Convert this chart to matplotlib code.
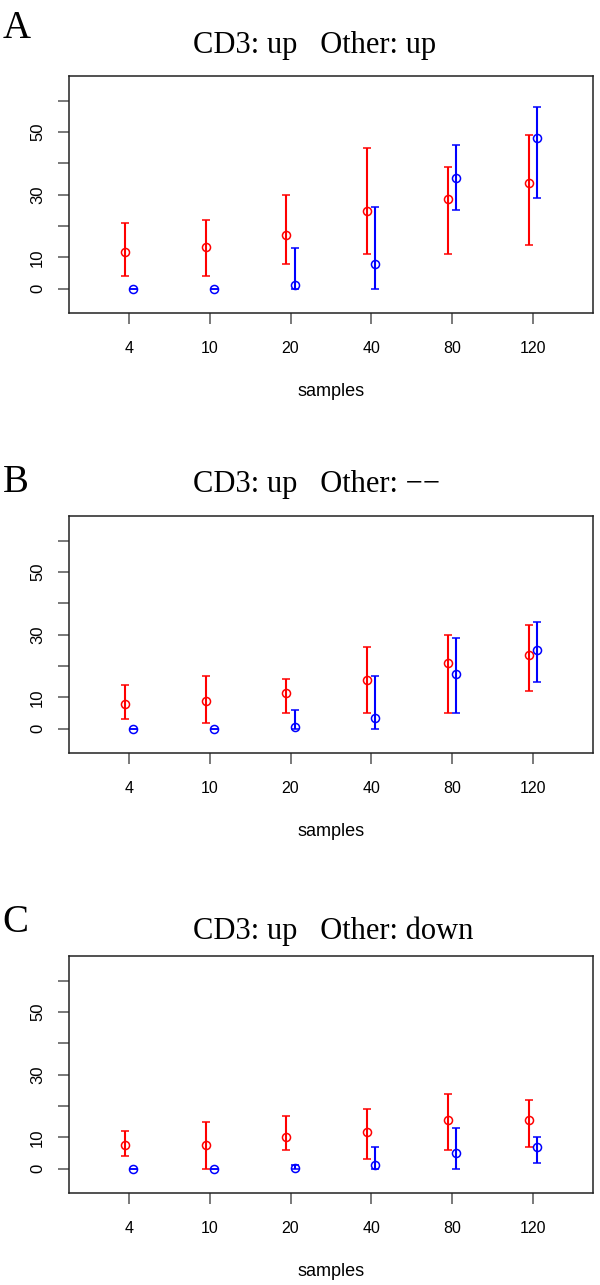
import matplotlib
matplotlib.use("Agg")
import matplotlib.pyplot as plt

# x categories (sample sizes)
samples = ["4", "10", "20", "40", "80", "120"]

# panel titles and letters
letters = ["A", "B", "C"]
titles = ["CD3: up   Other: up",
          "CD3: up   Other: \u2212\u2212",
          "CD3: up   Other: down"]

# panel A
a_red_mean = [11.6, 13.5, 17.2, 24.7, 28.7, 33.9]
a_red_lo = [4, 4, 8, 11, 11, 14]
a_red_hi = [21, 22, 30, 45, 39, 49]
a_blue_mean = [0, 0, 1.3, 7.9, 35.2, 48.2]
a_blue_lo = [0, 0, 0, 0, 25, 29]
a_blue_hi = [0, 0, 13, 26, 46, 58]

# panel B
b_red_mean = [7.9, 8.8, 11.3, 15.6, 20.9, 23.6]
b_red_lo = [3, 2, 5, 5, 5, 12]
b_red_hi = [14, 17, 16, 26, 30, 33]
b_blue_mean = [0, 0, 0.6, 3.6, 17.4, 25.1]
b_blue_lo = [0, 0, 0, 0, 5, 15]
b_blue_hi = [0, 0, 6, 17, 29, 34]

# panel C
c_red_mean = [7.5, 7.6, 10.3, 11.7, 15.7, 15.5]
c_red_lo = [4, 0, 6, 3, 6, 7]
c_red_hi = [12, 15, 17, 19, 24, 22]
c_blue_mean = [0, 0, 0.2, 1.2, 5.1, 7.1]
c_blue_lo = [0, 0, 0, 0, 0, 2]
c_blue_hi = [0, 0, 1.2, 7, 13, 10]

W, H = 600, 1285
SERIF = ["Liberation Serif", "DejaVu Serif"]
SANS = ["Liberation Sans", "DejaVu Sans"]


def draw_series(ax, means, lo, hi, color, shift):
    """
    Draws one series of open circles with error bars.
    """
    x = [i + 1 + shift for i in range(len(means))]
    err = [[m - l for m, l in zip(means, lo)], [h - m for m, h in zip(means, hi)]]
    ax.errorbar(x, means, yerr=err, fmt="o", color=color, mfc="none",
                ms=5.8, mew=1.1, elinewidth=1.5, capsize=2.9, capthick=1.5)


def draw_panel(fig, box, letter, title, letter_y, title_y, red, blue):
    """
    Draws one panel: axes box, ticks, labels and both series.
    box = (left, top, right, bottom) in pixels.
    """
    left, top, right, bottom = box
    ax = fig.add_axes([left / W, 1 - bottom / H, (right - left) / W, (bottom - top) / H])
    draw_series(ax, *red, "#FF0000", -0.05)
    draw_series(ax, *blue, "#0000FF", 0.05)

    ax.set_xlim(0.26, 6.74)
    ax.set_ylim(-7.8, 67.8)
    ax.set_xticks(range(1, 7))
    ax.set_xticklabels(samples, family=SANS, fontsize=11.5)
    ax.set_yticks([0, 10, 20, 30, 40, 50, 60])
    ax.set_yticklabels(["0", "10", "", "30", "", "50", ""], family=SANS,
                       fontsize=12, rotation=90, va="center")
    ax.tick_params(axis="x", length=8, width=1.1, color="#555555", pad=12)
    ax.tick_params(axis="y", length=8, width=1.1, color="#555555", pad=9.5)
    for sp in ax.spines.values():
        sp.set_linewidth(1.1)
        sp.set_color("#222222")

    ax.annotate("samples", xy=(0.5, 0), xycoords="axes fraction",
                xytext=(0, -78.4 * 0.72), textcoords="offset points",
                ha="center", va="center", family=SANS, fontsize=13)

    fig.text(2.5 / W, 1 - letter_y / H, letter, family=SERIF, fontsize=28,
             ha="left", va="baseline")
    fig.text(192.5 / W, 1 - title_y / H, title, family=SERIF, fontsize=22,
             ha="left", va="baseline")
    return ax


def main():
    fig = plt.figure(figsize=(W / 100, H / 100), dpi=100)

    panels = [
        ((69.3, 76.3, 592.5, 313.3), 37.7, 52.7,
         (a_red_mean, a_red_lo, a_red_hi), (a_blue_mean, a_blue_lo, a_blue_hi)),
        ((69.3, 516.3, 592.5, 753.3), 491.7, 492.3,
         (b_red_mean, b_red_lo, b_red_hi), (b_blue_mean, b_blue_lo, b_blue_hi)),
        ((69.3, 956.3, 592.5, 1193.3), 931.7, 939.3,
         (c_red_mean, c_red_lo, c_red_hi), (c_blue_mean, c_blue_lo, c_blue_hi)),
    ]
    for (box, ly, ty, red, blue), letter, title in zip(panels, letters, titles):
        draw_panel(fig, box, letter, title, ly, ty, red, blue)

    fig.savefig("out.png", dpi=100)


if __name__ == "__main__":
    main()
